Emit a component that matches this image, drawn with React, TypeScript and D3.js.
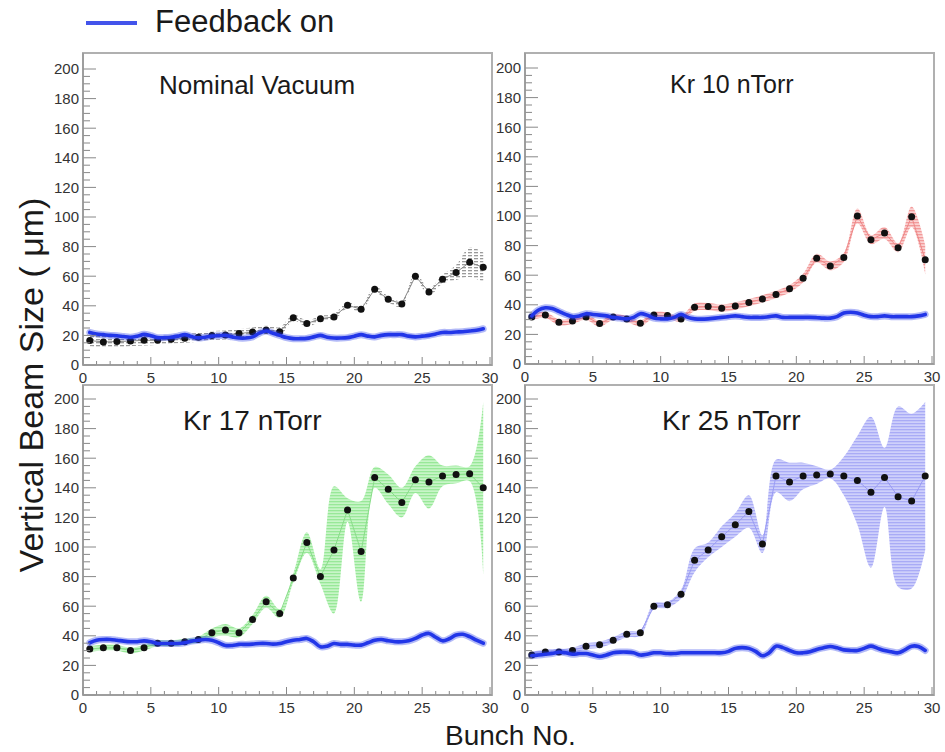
import React from 'react';
import * as d3 from 'd3';

// bunch positions (bin centres)
const bunchX = [0.5, 1.5, 2.5, 3.5, 4.5, 5.5, 6.5, 7.5, 8.5, 9.5, 10.5, 11.5, 12.5, 13.5, 14.5,
  15.5, 16.5, 17.5, 18.5, 19.5, 20.5, 21.5, 22.5, 23.5, 24.5, 25.5, 26.5, 27.5, 28.5, 29.5];

// feedback-on trace sampled every half bunch
const fbX = [0.5, 1, 1.5, 2, 2.5, 3, 3.5, 4, 4.5, 5, 5.5, 6, 6.5, 7, 7.5, 8, 8.5, 9, 9.5, 10,
  10.5, 11, 11.5, 12, 12.5, 13, 13.5, 14, 14.5, 15, 15.5, 16, 16.5, 17, 17.5, 18, 18.5, 19, 19.5, 20,
  20.5, 21, 21.5, 22, 22.5, 23, 23.5, 24, 24.5, 25, 25.5, 26, 26.5, 27, 27.5, 28, 28.5, 29, 29.5];

const nomY = [16.5, 15.6, 15.8, 16.2, 16.7, 16.7, 17.4, 18, 18.7, 20, 20.3, 21.2, 22.3, 23.7, 22.5,
  32, 28, 31.3, 32.5, 40.4, 37.7, 51.2, 44.4, 41.3, 60, 49.4, 58, 62.5, 69.4, 66];
const nomErr = [4, 4, 4, 3.5, 3.5, 3, 3, 3, 3, 3, 3, 3, 3, 3, 3,
  2, 2, 2, 2, 2, 2, 2, 2, 2, 2, 2.5, 3, 5, 10, 10];
const nomFb = [22, 21, 20.5, 20, 19.8, 19.2, 18.8, 19.5, 20.7, 19.8, 18.5, 18.5, 18.8, 19.5, 20.5,
  19.2, 18.3, 18.8, 19.5, 19.8, 20, 19, 18.2, 18.2, 19, 21.5, 23, 21.5, 20, 18.5, 17.8, 17.8, 18, 19,
  20, 18.8, 18.2, 18.2, 18.5, 19.5, 20.5, 19.5, 19, 20, 20.5, 20.5, 20.5, 19.5, 19, 19.5, 20, 21, 22,
  22, 22.3, 22.5, 23, 23.5, 24.5];

const kr10Y = [31.8, 33.1, 28.2, 29.1, 31.8, 27.3, 31.8, 30.4, 27.5, 33.1, 32.7, 30.4, 38.3, 38.8, 37.7,
  39.2, 41.5, 44, 47, 50.8, 58, 71.5, 66.3, 72, 100, 84, 88.5, 78.5, 99.5, 70.5];
const kr10Err = [2, 2, 2, 2, 2, 2, 2, 2, 2, 2, 2, 2, 2.5, 2.5, 2.5,
  2.5, 2.5, 2.5, 2.5, 2.5, 3, 3, 3, 3, 5, 3, 4, 3, 7, 10];
const kr10Fb = [32.5, 36.5, 38, 37.5, 35.5, 33.5, 32, 32.5, 34, 33.5, 33, 32.5, 31.5, 31, 30.5, 31.5,
  34, 33, 31, 30.5, 30.5, 31.5, 33.5, 31.5, 30.5, 30.3, 30.5, 31, 31.5, 32, 32.5, 32, 31.5, 31.5, 31.5,
  32, 32.5, 31.5, 31.5, 31.5, 31.5, 31.5, 31.3, 31, 31, 32, 34.5, 35, 34.5, 33, 32, 32, 32.5, 32, 32,
  32, 32, 32.5, 33.5];

const kr17Y = [31, 32, 32, 30, 32, 35, 35, 36, 37.5, 42, 44, 42, 51, 63, 55,
  79, 103, 80, 98, 125, 97, 147, 139, 130, 145.5, 144, 148, 149, 149.5, 140];
const kr17Err = [2, 2, 2, 2, 2, 2, 2, 2, 2, 3, 4, 3, 3, 4, 3,
  3, 7, 5, 43, 8, 34, 7, 10, 10, 9, 18, 7, 6, 5, 58];
const kr17Fb = [35.3, 37, 37.5, 37.5, 37, 36.4, 36, 36, 36.6, 36, 34.8, 34.8, 34.8, 34.8, 35.3, 36.4,
  37, 37.5, 37, 35.3, 33.5, 33.5, 34.2, 34.2, 34.4, 34.8, 34.8, 34.4, 34.8, 36, 37, 37.5, 38.2, 36,
  32.6, 33, 34.8, 34.2, 34.2, 33.7, 33.7, 35.3, 37, 37.5, 36.6, 36, 36, 36.6, 38.2, 40.5, 41.6, 39,
  36.6, 38, 40.5, 41, 39.4, 37, 35];

const kr25Y = [27, 29, 29, 30, 33, 34, 37, 41, 42, 60, 61, 68, 91, 98, 107,
  115, 124, 102, 148, 144, 148, 148.6, 149.3, 148, 145, 137, 147, 134, 131, 148];
const kr25Err = [2, 2, 2, 2, 2, 2, 2, 2, 2, 2, 2, 3, 8, 5, 7,
  8, 11, 6, 11, 13, 9, 6, 3, 13, 30, 51, 20, 61, 59, 50];
const kr25Fb = [26.5, 27, 27.5, 28, 29, 28.5, 27.5, 28, 28, 27, 26, 27, 28.5, 29, 29, 28.5, 27, 27.5,
  28.5, 28.5, 28, 28, 28.5, 28.5, 28.5, 28.5, 28.5, 28.5, 28.5, 29.5, 31.5, 32, 31.5, 29.5, 26.5, 28.5,
  33, 32, 30.1, 28.5, 28.5, 29.2, 30.8, 31.9, 32.8, 31.9, 30.5, 30.1, 30.1, 31.5, 33, 31.5, 30.1, 29.2,
  28.5, 30.5, 33, 32.8, 30.1];

const titles = ['Nominal Vacuum', 'Kr 10 nTorr', 'Kr 17 nTorr', 'Kr 25 nTorr'];
const yTickLabels = [0, 20, 40, 60, 80, 100, 120, 140, 160, 180, 200];
const xTickLabels = [0, 5, 10, 15, 20, 25, 30];

const FONT = '"Liberation Sans", Arial, Helvetica, sans-serif';
const BLUE = '#2236e8';

const panels = [
  { title: titles[0], y: nomY, err: nomErr, fb: nomFb, left: 83, top: 53, bottom: 365,
    titleX: 159, titleY: 94, titleSize: 26, bg: '#ffffff', stripe: '#9a9a9a', line: '#888', dash: true },
  { title: titles[1], y: kr10Y, err: kr10Err, fb: kr10Fb, left: 525, top: 53, bottom: 364,
    titleX: 670, titleY: 93, titleSize: 25, bg: '#fbd2d2', stripe: '#f29a9a', line: '#ee8888' },
  { title: titles[2], y: kr17Y, err: kr17Err, fb: kr17Fb, left: 83, top: 385, bottom: 695,
    titleX: 183, titleY: 430, titleSize: 28, bg: '#c8f5c8', stripe: '#98e898', line: '#88dd88' },
  { title: titles[3], y: kr25Y, err: kr25Err, fb: kr25Fb, left: 525, top: 385, bottom: 695,
    titleX: 662, titleY: 430, titleSize: 28, bg: '#cfd0fb', stripe: '#a9abf6', line: '#9a9cf4' },
];

const PW = 407; // width of 0..30

function Panel({ p, i }: { p: any; i: number }) {
  const x = d3.scaleLinear().domain([0, 30]).range([p.left, p.left + PW]);
  const y = d3.scaleLinear().domain([0, 200]).range([p.bottom, p.bottom - 200 * 1.48]);
  const pts = bunchX.map((bx, k) => ({ x: bx, y: p.y[k], e: p.err[k] }));
  const band = d3.area<any>().x(d => x(d.x)).y0(d => y(d.y - d.e)).y1(d => y(d.y + d.e))
    .curve(d3.curveCatmullRom.alpha(0.5));
  const graph = d3.line<any>().x(d => x(d.x)).y(d => y(d.y));
  const fbPts = fbX.map((fx, k) => [fx, p.fb[k]] as [number, number]);
  const fbLine = d3.line().x(d => x(d[0])).y(d => y(d[1])).curve(d3.curveCatmullRom);
  const xMinor = d3.range(0, 31, 1);
  const yMinor = d3.range(0, 201, 5);
  const pid = `hatch${i}`;
  return (
    <g>
      <defs>
        <pattern id={pid} width={p.dash ? 6 : 4} height={3} patternUnits="userSpaceOnUse">
          <rect width={p.dash ? 6 : 4} height={3} fill={p.bg} />
          <rect width={4} height={1.3} fill={p.stripe} />
        </pattern>
      </defs>
      <rect x={p.left} y={p.top} width={PW + 2} height={p.bottom - p.top}
        fill="#fff" stroke="#b0b0b0" strokeWidth={2} />
      <path d={band(pts) || ''} fill={`url(#${pid})`} stroke="none" />
      <path d={graph(pts) || ''} fill="none" stroke={p.line} strokeWidth={1} />
      {pts.map((d, k) => (
        <circle key={k} cx={x(d.x)} cy={y(d.y)} r={3.5} fill="#111" />
      ))}
      <path d={fbLine(fbPts) || ''} fill="none" stroke={BLUE} strokeOpacity={0.35} strokeWidth={7}
        strokeLinecap="round" />
      <path d={fbLine(fbPts) || ''} fill="none" stroke={BLUE} strokeWidth={3.6} strokeLinecap="round" />
      {/* ticks */}
      {xMinor.map(t => (
        <line key={'xt' + t} x1={x(t)} x2={x(t)} y1={p.bottom} y2={p.bottom - (t % 5 === 0 ? 8 : 4)}
          stroke="#888" strokeWidth={1} />
      ))}
      {yMinor.map(t => (
        <line key={'yt' + t} x1={p.left} x2={p.left + (t % 20 === 0 ? 13 : 7)} y1={y(t)} y2={y(t)}
          stroke="#888" strokeWidth={1} />
      ))}
      <line x1={p.left} x2={p.left + PW + 2} y1={p.bottom} y2={p.bottom} stroke="#999" strokeWidth={1.5} />
      <line x1={p.left} x2={p.left} y1={p.top} y2={p.bottom} stroke="#999" strokeWidth={1.5} />
      {yTickLabels.map(t => (
        <text key={'yl' + t} x={p.left - 4} y={y(t)} dy="0.36em" textAnchor="end" fontSize={15}
          fill="#333" fontFamily={FONT}>{t}</text>
      ))}
      {xTickLabels.map(t => (
        <text key={'xl' + t} x={x(t)} y={p.bottom + 18} textAnchor="middle" fontSize={15}
          fill="#333" fontFamily={FONT}>{t}</text>
      ))}
      <text x={p.titleX} y={p.titleY} fontSize={p.titleSize} fill="#1a1a1a" fontFamily={FONT}>{p.title}</text>
    </g>
  );
}

export default function App() {
  return (
    <svg width={945} height={752} style={{ position: 'absolute', left: 0, top: 0, background: '#fff' }}>
      <rect width={945} height={752} fill="#fff" />
      {panels.map((p, i) => <Panel key={i} p={p} i={i} />)}
      <line x1={86} x2={137} y1={23} y2={23} stroke={BLUE} strokeWidth={4} strokeOpacity={0.85} />
      <text x={155} y={32} fontSize={31} fill="#1a1a1a" fontFamily={FONT}>Feedback on</text>
      <text x={445} y={745} fontSize={28} fill="#1a1a1a" fontFamily={FONT}>Bunch No.</text>
      <text transform="translate(43,385) rotate(-90)" textAnchor="middle" fontSize={34} fill="#1a1a1a"
        fontFamily={FONT}>Vertical Beam Size ( μm)</text>
    </svg>
  );
}
